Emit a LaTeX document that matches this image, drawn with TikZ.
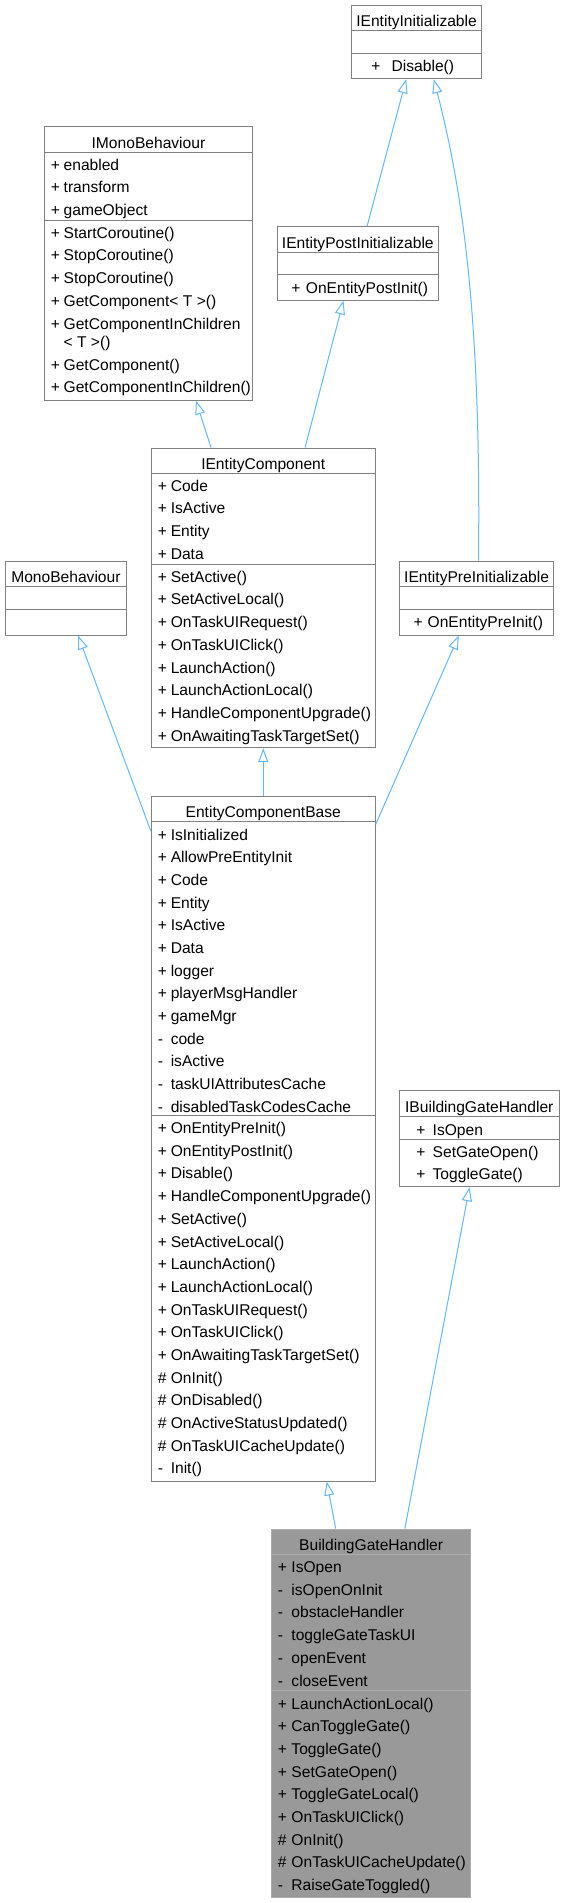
\documentclass[tikz,border=0pt]{standalone}
\usepackage{fontspec}
\setmainfont{Liberation Sans}
\usetikzlibrary{arrows.meta,calc,fit}
\definecolor{edgeblue}{HTML}{63B8FF}
\definecolor{boxline}{HTML}{808080}
\definecolor{mainfill}{HTML}{999999}
\definecolor{mainline}{HTML}{ABABAB}
\tikzset{
 umlbox/.style={draw=boxline, fill=white, inner sep=0pt, line width=0.75pt},
 umlbox-div/.style={draw=boxline, line width=0.75pt},
 mainbox/.style={draw=mainline, fill=mainfill, inner sep=0pt, line width=0.75pt},
 mainbox-div/.style={draw=mainline, line width=0.75pt},
 txt/.style={anchor=base west, inner sep=0pt, font=\fontsize{11.7}{13}\selectfont},
 ttl/.style={anchor=base, inner sep=0pt, font=\fontsize{11.7}{13}\selectfont},
 inh/.style={draw=edgeblue, line width=0.75pt, -{Triangle[open, length=10.5pt, width=7.5pt]}},
}
\newcommand\umlclass[9]{%
 \node[#1, fit={(#3,#4)(#5,#6)}] (#2) {};
 \draw[#1-div] (#3,#7) -- (#5,#7);
 \draw[#1-div] (#3,#8) -- (#5,#8);
 \node[ttl] (#2-title) at ({(#3+#5)/2}, #7-4) {#9};
}
\newcommand\members[5]{%
 \foreach \vs/\vn [count=\i] in {#5} {
   \node[txt] (#1s\i) at (#2, {#4+(\i-1)*22.68}) {\vs};
   \node[txt] (#1n\i) at (#3, {#4+(\i-1)*22.68}) {\vn};
 }}
\begin{document}
\begin{tikzpicture}[x=0.75pt,y=-0.75pt]
\fill[white] (0,0) rectangle (565,1903);
\useasboundingbox (0,0) rectangle (565,1903);

% IEntityInitializable
\umlclass{umlbox}{iei}{351.7}{5}{481.4}{78.7}{30.7}{53}{IEntityInitializable}
\members{ieiM}{371.2}{391.4}{71.3}{+/Disable()}

% IMonoBehaviour
\umlclass{umlbox}{imb}{44.3}{126.7}{252.6}{400}{152}{220}{IMonoBehaviour}
\members{imbA}{50.5}{63.4}{170.3}{+/enabled, +/transform, +/gameObject}
\members{imbM}{50.5}{63.4}{238.3}{+/StartCoroutine(), +/StopCoroutine(), +/StopCoroutine(), +/GetComponent< T >(), +/GetComponentInChildren}
\node[txt] (imbMw) at (63.4,347.3) {< T >()};
\node[txt] (imbMs6) at (50.5,370) {+};
\node[txt] (imbMn6) at (63.4,370) {GetComponent()};
\node[txt] (imbMs7) at (50.5,392.7) {+};
\node[txt] (imbMn7) at (63.4,392.7) {GetComponentInChildren()};

% IEntityPostInitializable
\umlclass{umlbox}{iepi}{277}{226.7}{438.6}{300}{252}{274.7}{IEntityPostInitializable}
\members{iepiM}{291.2}{305.6}{293.1}{+/OnEntityPostInit()}

% IEntityComponent
\umlclass{umlbox}{iec}{151.4}{448}{375.1}{747.7}{473}{564}{IEntityComponent}
\members{iecA}{157.5}{170.5}{491.3}{+/Code, +/IsActive, +/Entity, +/Data}
\members{iecM}{157.5}{170.5}{582.3}{+/SetActive(), +/SetActiveLocal(), +/OnTaskUIRequest(), +/OnTaskUIClick(), +/LaunchAction(), +/LaunchActionLocal(), +/HandleComponentUpgrade(), +/OnAwaitingTaskTargetSet()}

% MonoBehaviour
\umlclass{umlbox}{mb}{5}{561}{126.8}{635}{586.7}{609.3}{MonoBehaviour}

% IEntityPreInitializable
\umlclass{umlbox}{iepre}{399.3}{561}{553.9}{635}{586.7}{609.3}{IEntityPreInitializable}
\members{iepreM}{413.3}{427.4}{627.6}{+/OnEntityPreInit()}

% EntityComponentBase
\umlclass{umlbox}{ecb}{151.4}{796}{375.1}{1481}{821.7}{1115.3}{EntityComponentBase}
\members{ecbA}{157.5}{170.5}{840}{+/IsInitialized, +/AllowPreEntityInit, +/Code, +/Entity, +/IsActive, +/Data, +/logger, +/playerMsgHandler, +/gameMgr, -/code, -/isActive, -/taskUIAttributesCache, -/disabledTaskCodesCache}
\members{ecbM}{157.5}{170.5}{1133.6}{+/OnEntityPreInit(), +/OnEntityPostInit(), +/Disable(), +/HandleComponentUpgrade(), +/SetActive(), +/SetActiveLocal(), +/LaunchAction(), +/LaunchActionLocal(), +/OnTaskUIRequest(), +/OnTaskUIClick(), +/OnAwaitingTaskTargetSet(), \#/OnInit(), \#/OnDisabled(), \#/OnActiveStatusUpdated(), \#/OnTaskUICacheUpdate(), -/Init()}

% IBuildingGateHandler
\umlclass{umlbox}{ibgh}{399.3}{1090.7}{559.3}{1186.7}{1116.7}{1139}{IBuildingGateHandler}
\members{ibghA}{416.2}{432.4}{1135}{+/IsOpen}
\members{ibghM}{416.2}{432.4}{1157.3}{+/SetGateOpen(), +/ToggleGate()}

% BuildingGateHandler
\umlclass{mainbox}{bgh}{271.7}{1529}{470.6}{1897.3}{1554.3}{1690.7}{BuildingGateHandler}
\members{bghA}{277.5}{291.2}{1572.6}{+/IsOpen, -/isOpenOnInit, -/obstacleHandler, -/toggleGateTaskUI, -/openEvent, -/closeEvent}
\members{bghM}{277.5}{291.2}{1709}{+/LaunchActionLocal(), +/CanToggleGate(), +/ToggleGate(), +/SetGateOpen(), +/ToggleGateLocal(), +/OnTaskUIClick(), \#/OnInit(), \#/OnTaskUICacheUpdate(), -/RaiseGateToggled()}

% inheritance connectors
\draw[inh] ($(iepi.north west)+(90.6,0)$) -- ($(iei.south west)+(55,0)$);
\draw[inh] ($(iepre.north west)+(79.7,0)$) .. controls (481,330) and (465,200) .. ($(iei.south west)+(82.6,0)$);
\draw[inh] ($(iec.north west)+(60.1,0)$) -- ($(imb.south west)+(152.1,0)$);
\draw[inh] ($(iec.north west)+(154.2,0)$) -- ($(iepi.south west)+(67,0)$);
\draw[inh] ($(ecb.north west)+(0,35.7)$) -- ($(mb.south west)+(73.6,0)$);
\draw[inh] (ecb.north) -- (iec.south);
\draw[inh] ($(ecb.north east)+(0,29)$) -- ($(iepre.south west)+(60,0)$);
\draw[inh] ($(bgh.north west)+(64.5,0)$) -- ($(ecb.south west)+(175.8,0)$);
\draw[inh] ($(bgh.north west)+(133.7,0)$) -- ($(ibgh.south west)+(70.7,0)$);
\end{tikzpicture}
\end{document}
